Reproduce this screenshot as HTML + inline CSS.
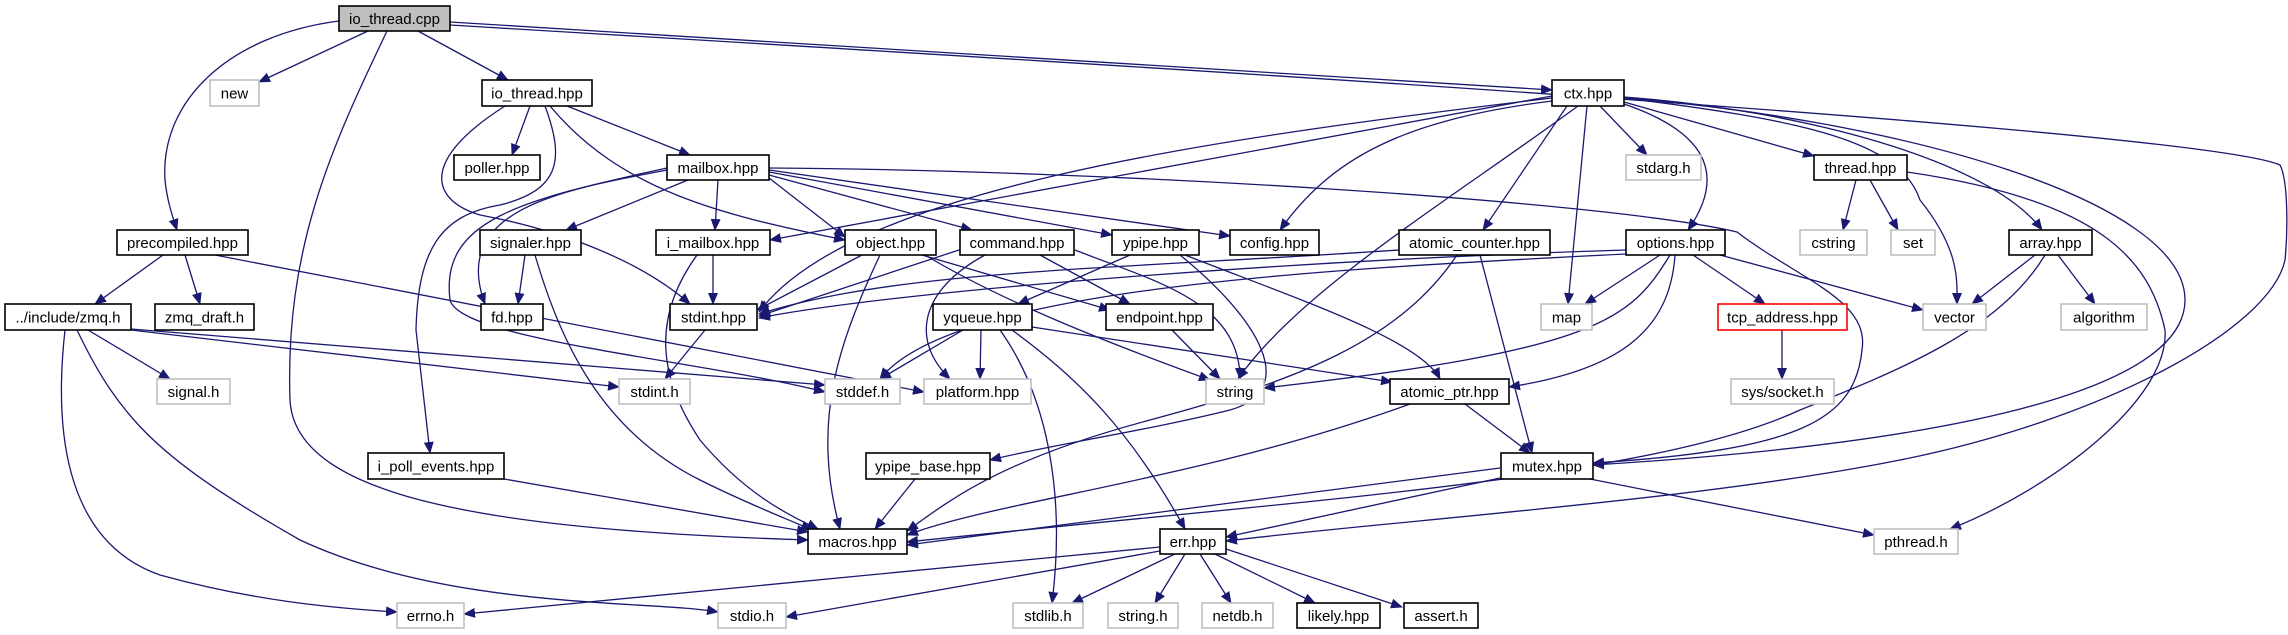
<!DOCTYPE html>
<html><head><meta charset="utf-8"><style>
html,body{margin:0;padding:0;background:#fff;}
svg{display:block;}
text{font-family:"Liberation Sans","DejaVu Sans",sans-serif;font-size:15px;fill:#000;}
.e{fill:none;stroke:#191970;stroke-width:1.3;marker-end:url(#a);}
.b{fill:#fff;stroke:#000;stroke-width:1.6;}
.g{fill:#fff;stroke:#bfbfbf;stroke-width:1.6;}
.r{fill:#fff;stroke:#ff0000;stroke-width:1.6;}
</style></head><body>
<svg width="2288" height="635" viewBox="0 0 2288 635" xmlns="http://www.w3.org/2000/svg">
<defs><marker id="a" markerWidth="12" markerHeight="10" refX="11" refY="5" orient="auto" markerUnits="userSpaceOnUse"><path d="M0,0 L12,5 L0,10 z" fill="#191970"/></marker></defs>
<g>
<path class="e" d="M368,31 L259,82"/>
<path class="e" d="M418,31 L508,80"/>
<path class="e" d="M339,21 C230,35 160,100 165,180 C167,200 172,215 177,230"/>
<path class="e" d="M387,31 C330,150 285,250 290,400 C295,500 500,530 808,540"/>
<path class="e" d="M450,22 L1552,90"/>
<path class="e" d="M450,25 C1200,70 2200,130 2280,165 C2288,180 2288,230 2285,260 C2270,330 2100,420 1900,460 C1700,500 1400,520 1226,541"/>
<path class="e" d="M1624,98 C1900,120 2185,200 2185,300 C2185,380 2000,440 1593,465"/>
<path class="e" d="M1907,172 C2100,200 2150,260 2165,330 C2170,400 2050,490 1950,529"/>
<path class="e" d="M1856,180 L1843,230"/>
<path class="e" d="M1870,180 L1898,230"/>
<path class="e" d="M1590,479 L1874,535"/>
<path class="e" d="M1624,98 C1800,120 1900,140 1920,200 C1960,250 1957,280 1957,304"/>
<path class="e" d="M1624,97 C1800,110 1990,160 2042,230"/>
<path class="e" d="M1624,102 L1814,156"/>
<path class="e" d="M1600,106 L1647,155"/>
<path class="e" d="M1624,104 C1700,130 1730,170 1688,230"/>
<path class="e" d="M1587,106 L1568,304"/>
<path class="e" d="M1578,106 C1450,200 1300,290 1238,379"/>
<path class="e" d="M1567,106 L1483,230"/>
<path class="e" d="M1552,101 C1400,120 1330,160 1280,230"/>
<path class="e" d="M1552,96 L770,240"/>
<path class="e" d="M1552,98 C1200,140 850,190 759,312"/>
<path class="e" d="M505,106 C420,160 430,200 480,215 C560,230 640,260 690,304"/>
<path class="e" d="M530,106 L512,155"/>
<path class="e" d="M567,106 L690,155"/>
<path class="e" d="M550,106 C620,190 720,215 845,240"/>
<path class="e" d="M545,106 C565,160 560,190 500,205 C440,215 418,250 416,330 L430,453"/>
<path class="e" d="M688,180 L566,230"/>
<path class="e" d="M718,180 L715,230"/>
<path class="e" d="M667,170 C560,190 450,210 485,304"/>
<path class="e" d="M667,168 C520,200 440,220 450,300 C460,340 700,360 825,392"/>
<path class="e" d="M769,178 L845,237"/>
<path class="e" d="M769,175 L972,230"/>
<path class="e" d="M769,172 L1112,235"/>
<path class="e" d="M769,170 L1230,236"/>
<path class="e" d="M769,168 C1100,170 1600,200 1737,232 C1800,280 1870,300 1862,350 C1855,420 1800,450 1593,463"/>
<path class="e" d="M713,255 L713,304"/>
<path class="e" d="M697,255 C650,320 660,380 700,440 C750,500 800,520 818,529"/>
<path class="e" d="M525,255 L518,304"/>
<path class="e" d="M535,255 C560,340 600,430 700,480 C750,505 790,520 812,530"/>
<path class="e" d="M862,255 L757,310"/>
<path class="e" d="M880,255 C840,340 810,420 840,529"/>
<path class="e" d="M922,255 L1110,310"/>
<path class="e" d="M925,255 C1000,300 1100,340 1210,380"/>
<path class="e" d="M965,248 L759,316"/>
<path class="e" d="M1040,255 L1130,304"/>
<path class="e" d="M985,255 C920,290 910,340 950,379"/>
<path class="e" d="M1075,250 C1150,280 1240,300 1240,379"/>
<path class="e" d="M1130,255 L1018,304"/>
<path class="e" d="M1185,255 C1300,300 1420,340 1440,379"/>
<path class="e" d="M1180,255 C1260,320 1300,390 1230,410 C1150,430 1050,445 990,460"/>
<path class="e" d="M963,330 L880,379"/>
<path class="e" d="M981,330 L980,379"/>
<path class="e" d="M1000,330 C1050,400 1065,500 1052,603"/>
<path class="e" d="M1012,330 C1080,380 1130,430 1185,529"/>
<path class="e" d="M1032,327 L1392,382"/>
<path class="e" d="M1172,330 L1220,379"/>
<path class="e" d="M1465,404 L1530,453"/>
<path class="e" d="M1410,404 C1200,480 1000,500 907,535"/>
<path class="e" d="M1399,250 C1100,270 900,270 759,314"/>
<path class="e" d="M1480,255 L1532,453"/>
<path class="e" d="M1457,255 C1400,340 1300,380 1150,420 C1000,460 950,500 907,531"/>
<path class="e" d="M1626,250 C1300,260 900,290 759,318"/>
<path class="e" d="M1660,255 L1585,304"/>
<path class="e" d="M1670,255 C1630,320 1600,350 1264,388"/>
<path class="e" d="M1675,255 C1670,330 1620,370 1509,387"/>
<path class="e" d="M1693,255 L1765,304"/>
<path class="e" d="M1720,255 L1923,310"/>
<path class="e" d="M1626,254 C1300,270 950,290 880,379"/>
<path class="e" d="M2035,255 L1972,304"/>
<path class="e" d="M2058,255 L2095,304"/>
<path class="e" d="M2045,255 C2000,330 1900,370 1800,410 C1650,480 1300,500 907,542"/>
<path class="e" d="M1782,330 L1782,379"/>
<path class="e" d="M1500,478 L1226,537"/>
<path class="e" d="M1500,468 L907,545"/>
<path class="e" d="M1175,554 L1072,603"/>
<path class="e" d="M1185,554 L1155,603"/>
<path class="e" d="M1200,554 L1231,603"/>
<path class="e" d="M1215,554 L1315,603"/>
<path class="e" d="M1226,549 L1402,607"/>
<path class="e" d="M1160,547 L464,614"/>
<path class="e" d="M1160,551 L786,617"/>
<path class="e" d="M163,255 L95,304"/>
<path class="e" d="M185,255 L200,304"/>
<path class="e" d="M215,255 L924,392"/>
<path class="e" d="M88,330 L170,379"/>
<path class="e" d="M131,330 L619,387"/>
<path class="e" d="M131,329 L825,385"/>
<path class="e" d="M65,330 C55,420 60,540 160,575 C250,600 330,608 397,612"/>
<path class="e" d="M77,330 C120,420 160,460 300,540 C450,610 650,600 718,612"/>
<path class="e" d="M705,330 L665,379"/>
<path class="e" d="M915,479 L875,529"/>
<path class="e" d="M504,479 L808,532"/>
</g>
<g>
<rect x="339" y="6" width="111" height="25" fill="#bfbfbf" stroke="#000" stroke-width="1.6"/><text x="394.5" y="24" text-anchor="middle">io_thread.cpp</text>
<rect class="g" x="210" y="80" width="49" height="26"/><text x="234.5" y="98.5" text-anchor="middle">new</text>
<rect class="b" x="482" y="80" width="110" height="26"/><text x="537" y="98.5" text-anchor="middle">io_thread.hpp</text>
<rect class="b" x="1552" y="80" width="72" height="26"/><text x="1588" y="98.5" text-anchor="middle">ctx.hpp</text>
<rect class="b" x="454" y="155" width="86" height="25"/><text x="497" y="173" text-anchor="middle">poller.hpp</text>
<rect class="b" x="667" y="155" width="102" height="25"/><text x="718" y="173" text-anchor="middle">mailbox.hpp</text>
<rect class="g" x="1626" y="155" width="75" height="25"/><text x="1663.5" y="173" text-anchor="middle">stdarg.h</text>
<rect class="b" x="1814" y="155" width="93" height="25"/><text x="1860.5" y="173" text-anchor="middle">thread.hpp</text>
<rect class="b" x="117" y="230" width="131" height="25"/><text x="182.5" y="248" text-anchor="middle">precompiled.hpp</text>
<rect class="b" x="480" y="230" width="101" height="25"/><text x="530.5" y="248" text-anchor="middle">signaler.hpp</text>
<rect class="b" x="656" y="230" width="114" height="25"/><text x="713" y="248" text-anchor="middle">i_mailbox.hpp</text>
<rect class="b" x="845" y="230" width="91" height="25"/><text x="890.5" y="248" text-anchor="middle">object.hpp</text>
<rect class="b" x="960" y="230" width="114" height="25"/><text x="1017" y="248" text-anchor="middle">command.hpp</text>
<rect class="b" x="1112" y="230" width="87" height="25"/><text x="1155.5" y="248" text-anchor="middle">ypipe.hpp</text>
<rect class="b" x="1230" y="230" width="89" height="25"/><text x="1274.5" y="248" text-anchor="middle">config.hpp</text>
<rect class="b" x="1399" y="230" width="151" height="25"/><text x="1474.5" y="248" text-anchor="middle">atomic_counter.hpp</text>
<rect class="b" x="1626" y="230" width="99" height="25"/><text x="1675.5" y="248" text-anchor="middle">options.hpp</text>
<rect class="g" x="1800" y="230" width="67" height="25"/><text x="1833.5" y="248" text-anchor="middle">cstring</text>
<rect class="g" x="1891" y="230" width="44" height="25"/><text x="1913" y="248" text-anchor="middle">set</text>
<rect class="b" x="2009" y="230" width="83" height="25"/><text x="2050.5" y="248" text-anchor="middle">array.hpp</text>
<rect class="b" x="5" y="304" width="126" height="26"/><text x="68" y="322.5" text-anchor="middle">../include/zmq.h</text>
<rect class="b" x="155" y="304" width="99" height="26"/><text x="204.5" y="322.5" text-anchor="middle">zmq_draft.h</text>
<rect class="b" x="481" y="304" width="62" height="26"/><text x="512" y="322.5" text-anchor="middle">fd.hpp</text>
<rect class="b" x="670" y="304" width="87" height="26"/><text x="713.5" y="322.5" text-anchor="middle">stdint.hpp</text>
<rect class="b" x="933" y="304" width="99" height="26"/><text x="982.5" y="322.5" text-anchor="middle">yqueue.hpp</text>
<rect class="b" x="1106" y="304" width="107" height="26"/><text x="1159.5" y="322.5" text-anchor="middle">endpoint.hpp</text>
<rect class="g" x="1541" y="304" width="51" height="26"/><text x="1566.5" y="322.5" text-anchor="middle">map</text>
<rect class="r" x="1718" y="304" width="129" height="26"/><text x="1782.5" y="322.5" text-anchor="middle">tcp_address.hpp</text>
<rect class="g" x="1923" y="304" width="63" height="26"/><text x="1954.5" y="322.5" text-anchor="middle">vector</text>
<rect class="g" x="2061" y="304" width="86" height="26"/><text x="2104" y="322.5" text-anchor="middle">algorithm</text>
<rect class="g" x="157" y="379" width="73" height="25"/><text x="193.5" y="397" text-anchor="middle">signal.h</text>
<rect class="g" x="619" y="379" width="71" height="25"/><text x="654.5" y="397" text-anchor="middle">stdint.h</text>
<rect class="g" x="825" y="379" width="75" height="25"/><text x="862.5" y="397" text-anchor="middle">stddef.h</text>
<rect class="g" x="924" y="379" width="107" height="25"/><text x="977.5" y="397" text-anchor="middle">platform.hpp</text>
<rect class="g" x="1206" y="379" width="58" height="25"/><text x="1235" y="397" text-anchor="middle">string</text>
<rect class="b" x="1390" y="379" width="119" height="25"/><text x="1449.5" y="397" text-anchor="middle">atomic_ptr.hpp</text>
<rect class="g" x="1731" y="379" width="103" height="25"/><text x="1782.5" y="397" text-anchor="middle">sys/socket.h</text>
<rect class="b" x="368" y="453" width="136" height="26"/><text x="436" y="471.5" text-anchor="middle">i_poll_events.hpp</text>
<rect class="b" x="866" y="453" width="124" height="26"/><text x="928" y="471.5" text-anchor="middle">ypipe_base.hpp</text>
<rect class="b" x="1501" y="453" width="92" height="26"/><text x="1547" y="471.5" text-anchor="middle">mutex.hpp</text>
<rect class="b" x="808" y="529" width="99" height="25"/><text x="857.5" y="547" text-anchor="middle">macros.hpp</text>
<rect class="b" x="1160" y="529" width="66" height="25"/><text x="1193" y="547" text-anchor="middle">err.hpp</text>
<rect class="g" x="1874" y="529" width="84" height="25"/><text x="1916" y="547" text-anchor="middle">pthread.h</text>
<rect class="g" x="397" y="603" width="67" height="25"/><text x="430.5" y="621" text-anchor="middle">errno.h</text>
<rect class="g" x="718" y="603" width="68" height="25"/><text x="752" y="621" text-anchor="middle">stdio.h</text>
<rect class="g" x="1013" y="603" width="70" height="25"/><text x="1048" y="621" text-anchor="middle">stdlib.h</text>
<rect class="g" x="1108" y="603" width="70" height="25"/><text x="1143" y="621" text-anchor="middle">string.h</text>
<rect class="g" x="1202" y="603" width="71" height="25"/><text x="1237.5" y="621" text-anchor="middle">netdb.h</text>
<rect class="b" x="1297" y="603" width="83" height="25"/><text x="1338.5" y="621" text-anchor="middle">likely.hpp</text>
<rect class="b" x="1404" y="603" width="74" height="25"/><text x="1441" y="621" text-anchor="middle">assert.h</text>
</g>
</svg>
</body></html>
